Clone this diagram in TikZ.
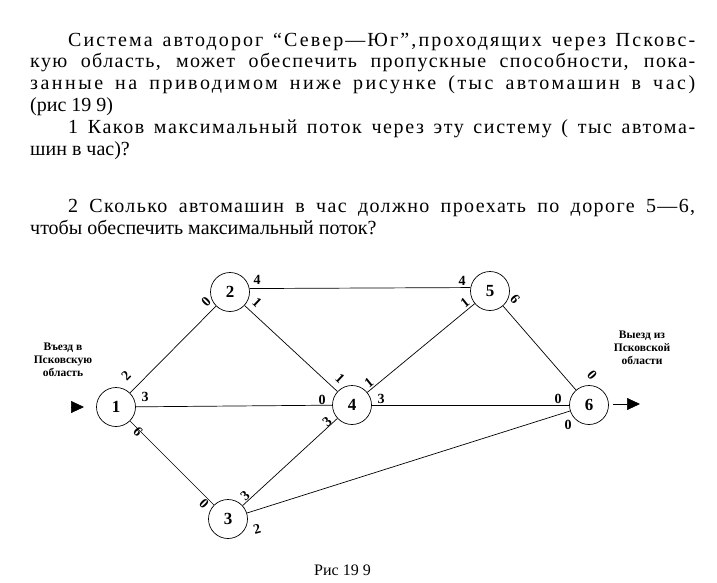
\documentclass[tikz,border=0pt]{standalone}
\usepackage{fontspec}
\setmainfont{Liberation Serif}
\usetikzlibrary{arrows.meta}
\newcommand{\spacedline}[3]{\makebox[#1][s]{\addfontfeatures{LetterSpace=#2}#3}}
\begin{document}
\begin{tikzpicture}[x=1pt,y=-1pt,
  vtx/.style={circle,draw,line width=0.7pt,minimum size=39pt,inner sep=0pt,font=\fontsize{17}{17}\selectfont\bfseries},
  roadline/.style={line width=0.7pt},
  capnum/.style={font=\fontsize{14}{14}\selectfont\bfseries,inner sep=0pt},
  bodytxt/.style={anchor=base west,inner sep=0pt,font=\fontsize{20}{22}\selectfont},
  sidenote/.style={align=center,inner sep=0pt,font=\fontsize{11.5}{13}\selectfont\bfseries},
  arrtip/.style={-{Triangle[length=13pt,width=12pt]},line width=0.7pt}]
\useasboundingbox (0,0) rectangle (717,583);
% text
\node[bodytxt] (t1) at (68,47) {\spacedline{627pt}{10.5}{Система автодорог “Север—Юг”,проходящих через Псковс-}};
\node[bodytxt] (t2) at (30,68) {\spacedline{665pt}{7}{кую область, может обеспечить пропускные способности, пока-}};
\node[bodytxt] (t3) at (30,90) {\spacedline{665pt}{12.5}{занные на приводимом ниже рисунке (тыс автомашин в час)}};
\node[bodytxt] (t4) at (30,112) {(рис 19 9)};
\node[bodytxt] (t5) at (68,133) {\spacedline{627pt}{8}{1 Каков максимальный поток через эту систему ( тыс автома-}};
\node[bodytxt] (t6) at (30,155) {шин в час)?};
\node[bodytxt] (t7) at (68,212) {\spacedline{627pt}{7}{2 Сколько автомашин в час должно проехать по дороге 5—6,}};
\node[bodytxt] (t8) at (30,234) {чтобы обеспечить максимальный поток?};
% vertices
\node[vtx] (n1) at (116,407) {1};
\node[vtx] (n2) at (230,292) {2};
\node[vtx] (n3) at (228,519) {3};
\node[vtx] (n4) at (352,405) {4};
\node[vtx] (n5) at (490,291) {5};
\node[vtx] (n6) at (589,405) {6};
% roads
\draw[roadline] (n1) -- (n2);
\draw[roadline] (n1) -- (n4);
\draw[roadline] (n1) -- (n3);
\draw[roadline] (n2.10) -- (n5.170);
\draw[roadline] (n2) -- (n4);
\draw[roadline] (n3) -- (n4);
\draw[roadline] (n3) -- (n6);
\draw[roadline] (n4) -- (n5);
\draw[roadline] (n4) -- (n6);
\draw[roadline] (n5) -- (n6);
% capacities
\node[capnum,rotate=45] (c12a) at (126,376) {2};
\node[capnum,rotate=45] (c12b) at (206,302) {0};
\node[capnum] (c25a) at (257,280) {4};
\node[capnum] (c25b) at (462,281) {4};
\node[capnum,rotate=-43] (c24a) at (257,303) {1};
\node[capnum,rotate=-43] (c24b) at (340,379) {1};
\node[capnum] (c14a) at (145,397) {3};
\node[capnum] (c14b) at (322,400) {0};
\node[capnum,rotate=-45] (c13a) at (138,432) {6};
\node[capnum,rotate=-45] (c13b) at (204,504) {0};
\node[capnum,rotate=43] (c34a) at (245,496) {3};
\node[capnum,rotate=43] (c34b) at (327,422) {3};
\node[capnum,rotate=15] (c36a) at (257,529) {2};
\node[capnum] (c36b) at (568,425) {0};
\node[capnum,rotate=39] (c45a) at (369,383) {1};
\node[capnum,rotate=39] (c45b) at (465,303) {1};
\node[capnum] (c46a) at (381,399) {3};
\node[capnum] (c46b) at (558,399) {0};
\node[capnum,rotate=-49] (c56a) at (515,299) {6};
\node[capnum,rotate=-49] (c56b) at (592,375) {0};
% entry / exit
\node[sidenote] (entry) at (63,360) {Въезд в\\Псковскую\\область};
\node[sidenote] (exit) at (642,348) {Выезд из\\Псковской\\области};
\coordinate (inS) at (71,407);
\coordinate (inE) at (84,407);
\draw[arrtip] (inS) -- (inE);
\coordinate (outS) at (613,404);
\coordinate (outE) at (640,404);
\draw[arrtip] (outS) -- (outE);
% caption
\node[bodytxt,font=\fontsize{16}{16}\selectfont] (fig) at (314,575) {Рис 19 9};
\end{tikzpicture}
\end{document}
